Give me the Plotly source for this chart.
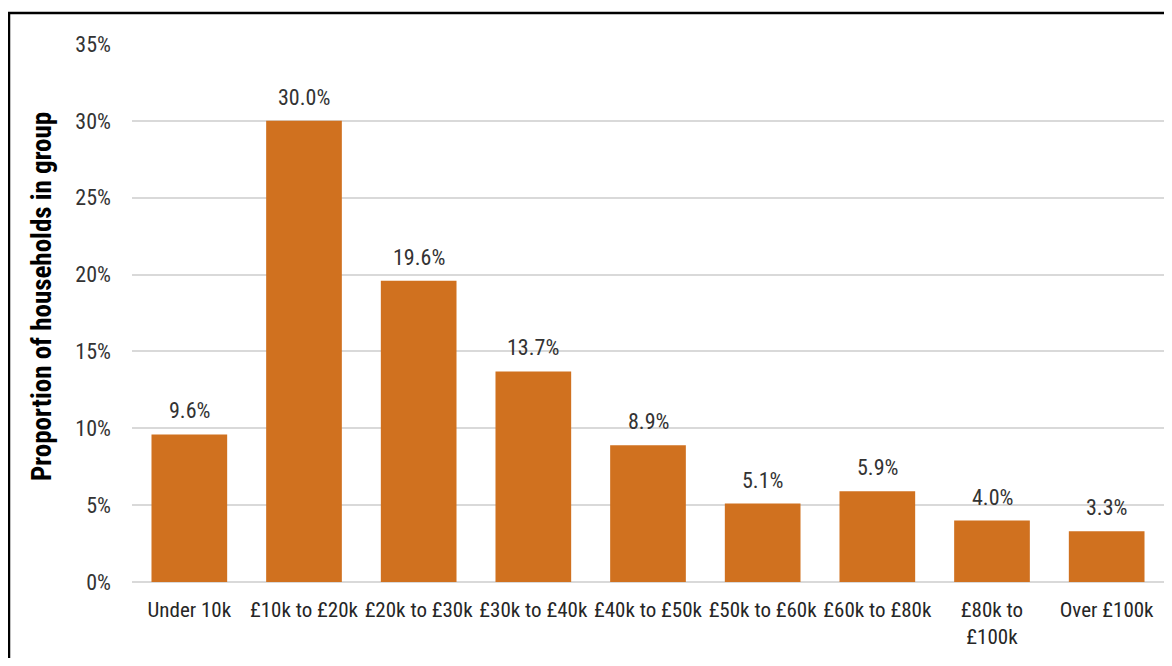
import plotly.graph_objects as go

categories = ["Under 10k", "£10k to £20k", "£20k to £30k", "£30k to £40k", "£40k to £50k",
              "£50k to £60k", "£60k to £80k", "£80k to<br>£100k", "Over £100k"]
values = [9.6, 30.0, 19.6, 13.7, 8.9, 5.1, 5.9, 4.0, 3.3]
tick_vals = [0, 5, 10, 15, 20, 25, 30, 35]
tick_text = ["0%", "5%", "10%", "15%", "20%", "25%", "30%", "35%"]
y_title = "Proportion of households in group"

FONT = "Roboto Condensed, Arial Narrow, sans-serif"
W, H = 1156, 650
L, T = 124, 36
PW, PH = 1032, 538

fig = go.Figure(go.Bar(
    x=categories, y=values,
    marker=dict(color="#D0711F", line=dict(width=0)),
    cliponaxis=False,
))

for c, v in zip(categories, values):
    fig.add_annotation(x=c, y=v, text=f"{v:.1f}%", showarrow=False,
                       yanchor="bottom", yshift=9,
                       font=dict(family=FONT, size=22, color="#333333"))

fig.add_annotation(xref="paper", yref="paper",
                   x=(42 - 8 - L) / PW, y=(582 - 297) / PH,
                   text=f"<b>{y_title}</b>", textangle=-90, showarrow=False,
                   xanchor="center", yanchor="middle",
                   font=dict(family=FONT, size=27, color="#000000"))

fig.update_layout(
    width=W, height=H,
    margin=dict(l=L, r=W - L - PW, t=T, b=H - T - PH),
    paper_bgcolor="white", plot_bgcolor="white",
    bargap=0.34,
    showlegend=False,
    font=dict(family=FONT, size=22, color="#333333"),
    xaxis=dict(tickfont=dict(family=FONT, size=21, color="#262626"), showline=False,
               ticks="", tickangle=0, automargin=False, ticklabelstandoff=13),
    yaxis=dict(range=[0, 35], tickvals=tick_vals, ticktext=tick_text,
               tickfont=dict(family=FONT, size=22, color="#333333"),
               gridcolor="#D9D9D9", gridwidth=1.5, zeroline=True, zerolinecolor="#D9D9D9",
               zerolinewidth=1.5, ticks="", ticklabelstandoff=20, automargin=False),
    shapes=[dict(type="rect", xref="paper", yref="paper",
                 x0=(9 - 8 - L) / PW, x1=1.2, y0=-0.5, y1=1 + 31 / PH,
                 line=dict(color="black", width=2.5), layer="above")],
)

fig.write_html("out.html")
